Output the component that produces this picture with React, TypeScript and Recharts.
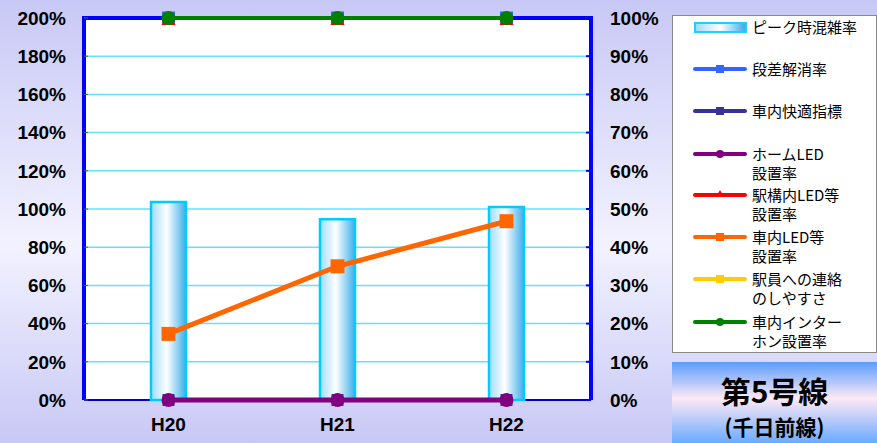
import { ComposedChart, Bar, Line, XAxis, YAxis, CartesianGrid } from 'recharts';

// 年度
const categories = ['H20', 'H21', 'H22'];

// 左軸 (%)
const peakCongestion = [103.7, 94.6, 101.1];

// 右軸 (%)
const stepFree = [100, 100, 100];
const comfortIndex = [0, 0, 0];
const platformLed = [0, 0, 0];
const stationLed = [100, 100, 100];
const carLed = [17.3, 35.0, 46.8];
const staffContact: (number | null)[] = [null, null, null];
const intercom = [100, 100, 100];

const leftTicks = [0, 20, 40, 60, 80, 100, 120, 140, 160, 180, 200];
const rightTicks = [0, 10, 20, 30, 40, 50, 60, 70, 80, 90, 100];

type Shape = 'square' | 'circle' | 'triangle';

const lineSeries: { key: string; label: string[]; values: (number | null)[]; color: string; shape: Shape; width: number; size: number }[] = [
  { key: 'stepFree', label: ['段差解消率'], values: stepFree, color: '#3366ff', shape: 'square', width: 4, size: 13 },
  { key: 'comfort', label: ['車内快適指標'], values: comfortIndex, color: '#333399', shape: 'square', width: 4, size: 12 },
  { key: 'platformLed', label: ['ホームLED', '設置率'], values: platformLed, color: '#800080', shape: 'circle', width: 5, size: 14 },
  { key: 'stationLed', label: ['駅構内LED等', '設置率'], values: stationLed, color: '#ff0000', shape: 'triangle', width: 4, size: 14 },
  { key: 'carLed', label: ['車内LED等', '設置率'], values: carLed, color: '#ff6600', shape: 'square', width: 5, size: 14 },
  { key: 'staff', label: ['駅員への連絡', 'のしやすさ'], values: staffContact, color: '#ffcc00', shape: 'square', width: 4, size: 14 },
  { key: 'intercom', label: ['車内インター', 'ホン設置率'], values: intercom, color: '#008000', shape: 'circle', width: 4, size: 14 },
];

const chartData = categories.map((cat, i) => {
  const row: Record<string, string | number | null> = { cat, peak: peakCongestion[i] };
  lineSeries.forEach(s => { row[s.key] = s.values[i]; });
  return row;
});

const AXIS_FONT = { fontFamily: '"Liberation Sans", Arial, sans-serif', fontWeight: 700, fontSize: 19, fill: '#000' };

const markerFor = (shape: Shape, color: string, size: number) => (props: any) => {
  const { cx, cy, index } = props;
  if (cx == null || cy == null || props.value == null) return <g key={`m-${index}`} />;
  const h = size / 2;
  if (shape === 'circle') return <circle key={`m-${index}`} cx={cx} cy={cy} r={h} fill={color} />;
  if (shape === 'triangle')
    return <polygon key={`m-${index}`} points={`${cx},${cy - h} ${cx + h},${cy + h} ${cx - h},${cy + h}`} fill={color} />;
  return <rect key={`m-${index}`} x={cx - h} y={cy - h} width={size} height={size} fill={color} />;
};

const gridLine = (props: any) => {
  const { x1, x2, y1, index } = props;
  if (Math.abs(y1 - 18) < 2) return <line key={`h-${index}`} x1={x1 - 2} x2={x2 + 2} y1={y1} y2={y1} stroke="#0000ff" strokeWidth={4} />;
  if (Math.abs(y1 - 400) < 2) return <line key={`h-${index}`} x1={x1} x2={x2} y1={y1} y2={y1} stroke="#0000cc" strokeWidth={2} />;
  return <line key={`h-${index}`} x1={x1} x2={x2} y1={y1} y2={y1} stroke="#66e0ff" strokeWidth={1.5} />;
};

function LegendSwatch({ s }: { s: (typeof lineSeries)[number] }) {
  const h = 4;
  return (
    <svg width={56} height={12} style={{ position: 'absolute', left: 19, top: 4 }}>
      <line x1={3} x2={53} y1={6} y2={6} stroke={s.color} strokeWidth={4} strokeLinecap="round" />
      {s.shape === 'circle' && <circle cx={28} cy={6} r={h} fill={s.color} />}
      {s.shape === 'square' && <rect x={28 - h} y={6 - h} width={8} height={8} fill={s.color} />}
      {s.shape === 'triangle' && <polygon points={`28,1 32,8 24,8`} fill={s.color} />}
    </svg>
  );
}

// 凡例の各行の中心 (px)
const legendCenters = [69, 111, 154, 195, 237, 279, 322];

export default function App() {
  return (
    <div
      style={{
        position: 'absolute',
        left: 0,
        top: 0,
        width: 877,
        height: 443,
        overflow: 'hidden',
        background: 'linear-gradient(to bottom, #c8c8f6 0%, #f2f2ff 55%, #c8c8f6 100%)',
      }}
    >
      <ComposedChart width={877} height={443} data={chartData} margin={{ top: 18, right: 0, bottom: 0, left: 0 }}>
        <defs>
          <linearGradient id="barFill" x1="0" y1="0" x2="1" y2="0">
            <stop offset="0%" stopColor="#9fdcff" />
            <stop offset="45%" stopColor="#ffffff" />
            <stop offset="100%" stopColor="#3aaeea" />
          </linearGradient>
        </defs>
        <CartesianGrid yAxisId="left" vertical={false} horizontal={gridLine} fill="#ffffff" fillOpacity={1} />
        <XAxis
          dataKey="cat"
          height={43}
          axisLine={false}
          tickLine={false}
          tickSize={0}
          tickMargin={18}
          tick={{ ...AXIS_FONT, fontSize: 19 }}
        />
        <YAxis
          yAxisId="left"
          orientation="left"
          width={84}
          domain={[0, 200]}
          ticks={leftTicks}
          interval={0}
          tickFormatter={(v: number) => `${v}%`}
          axisLine={{ stroke: '#0000ff', strokeWidth: 4 }}
          tickLine={{ stroke: '#555' }}
          tickSize={-4}
          tickMargin={22}
          tick={AXIS_FONT}
        />
        <YAxis
          yAxisId="right"
          orientation="right"
          width={286}
          domain={[0, 100]}
          ticks={rightTicks}
          interval={0}
          tickFormatter={(v: number) => `${v}%`}
          axisLine={{ stroke: '#0000ff', strokeWidth: 4 }}
          tickLine={{ stroke: '#0000ff', strokeWidth: 2 }}
          tickSize={-5}
          tickMargin={24}
          tick={{ ...AXIS_FONT, textAnchor: 'start' }}
        />
        <Bar
          yAxisId="left"
          dataKey="peak"
          barSize={35}
          fill="url(#barFill)"
          stroke="#00ccff"
          strokeWidth={2.5}
          isAnimationActive={false}
        />
        {lineSeries.map(s => (
          <Line
            key={s.key}
            yAxisId="right"
            dataKey={s.key}
            stroke={s.color}
            strokeWidth={s.width}
            dot={markerFor(s.shape, s.color, s.size)}
            activeDot={false}
            isAnimationActive={false}
          />
        ))}
      </ComposedChart>

      <div
        style={{
          position: 'absolute',
          left: 672,
          top: 15,
          width: 203,
          height: 336,
          background: '#fff',
          border: '1px solid #888',
          fontFamily: '"Noto Sans CJK JP", sans-serif',
          fontSize: 15,
          lineHeight: '19px',
          color: '#000',
        }}
      >
        <div style={{ position: 'absolute', left: 21, top: 6, width: 49, height: 7, border: '2px solid #22ccff', background: 'linear-gradient(to right, #9fdcff, #ffffff 50%, #3aaeea)' }} />
        <div style={{ position: 'absolute', left: 79, top: 1 }}>ピーク時混雑率</div>
        {lineSeries.map((s, i) => (
          <div key={s.key} style={{ position: 'absolute', left: 0, top: legendCenters[i] - 16 - 10, width: 200 }}>
            <LegendSwatch s={s} />
            <div style={{ position: 'absolute', left: 79, top: 0 }}>
              {s.label.map(t => <div key={t}>{t}</div>)}
            </div>
          </div>
        ))}
      </div>

      <div
        style={{
          position: 'absolute',
          left: 672,
          top: 362,
          width: 205,
          height: 81,
          background: 'linear-gradient(to bottom, #5a9cff 0%, #fde9f5 45%, #6aaaff 100%)',
          fontFamily: '"Noto Sans CJK JP", sans-serif',
          fontWeight: 700,
          color: '#000',
          textAlign: 'center',
        }}
      >
        <div style={{ position: 'absolute', left: 0, right: 0, top: 9, fontSize: 30, lineHeight: '38px' }}>第5号線</div>
        <div style={{ position: 'absolute', left: 0, right: 0, top: 50, fontSize: 21, lineHeight: '28px' }}>(千日前線)</div>
      </div>
    </div>
  );
}
